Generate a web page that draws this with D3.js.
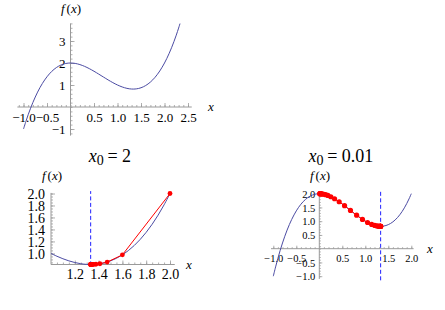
<!DOCTYPE html>
<html><head><meta charset="utf-8">
<script src="https://cdn.jsdelivr.net/npm/d3@7"></script>
<style>
html,body{margin:0;padding:0;background:#fff;}
svg, svg text{font-family:"Liberation Serif","Tinos","Times New Roman","Nimbus Roman","DejaVu Serif",serif !important;}
</style></head>
<body><svg id="c" width="445" height="310"></svg>
<script>
// f(x) sampled values
const curveX = [-1.00,-0.95,-0.90,-0.85,-0.80,-0.75,-0.70,-0.65,-0.60,-0.55,-0.50,-0.45,-0.40,-0.35,-0.30,-0.25,-0.20,-0.15,-0.10,-0.05,
  0.00,0.05,0.10,0.15,0.20,0.25,0.30,0.35,0.40,0.45,0.50,0.55,0.60,0.65,0.70,0.75,0.80,0.85,0.90,0.95,
  1.00,1.05,1.10,1.15,1.20,1.25,1.30,1.3333,1.35,1.40,1.45,1.50,1.55,1.60,1.65,1.70,1.75,1.80,1.85,1.90,1.95,
  2.00,2.05,2.10,2.15,2.20,2.25,2.30,2.33];
const curveY = [-1.0000,-0.6624,-0.3490,-0.0591,0.2080,0.4531,0.6770,0.8804,1.0640,1.2286,1.3750,1.5039,1.6160,1.7121,1.7930,1.8594,1.9120,1.9516,1.9790,1.9949,
  2.0000,1.9951,1.9810,1.9584,1.9280,1.8906,1.8470,1.7979,1.7440,1.6861,1.6250,1.5614,1.4960,1.4296,1.3630,1.2969,1.2320,1.1691,1.1090,1.0524,
  1.0000,0.9526,0.9110,0.8759,0.8480,0.8281,0.8170,0.8148,0.8154,0.8240,0.8436,0.8750,0.9189,0.9760,1.0471,1.1330,1.2344,1.3520,1.4866,1.6390,1.8099,
  2.0000,2.2101,2.4410,2.6934,2.9680,3.2656,3.5870,3.7915];

// iterates starting at x0 = 2
const iterX_a = [2.0000,1.6000,1.4720,1.4108,1.3780,1.3595,1.3488,1.3426,1.3388,1.3366,1.3353,1.3345,1.3340,1.3338,1.3336,1.3335];
const iterY_a = [2.0000,0.9760,0.8559,0.8273,0.8189,0.8162,0.8153,0.8150,0.8149,0.8148,0.8148,0.8148,0.8148,0.8148,0.8148,0.8148];
// iterates starting at x0 = 0.01
const iterX_b = [0.0100,0.0140,0.0195,0.0272,0.0378,0.0525,0.0727,0.1002,0.1373,0.1866,0.2508,0.3322,0.4320,0.5488,0.6780,0.8113,0.9384,1.0495,1.1389,1.2053,1.2516,1.2823,1.3019,1.3142,1.3217,1.3263,1.3291,1.3308,1.3318,1.3324,1.3328,1.3330];
const iterY_b = [1.9998,1.9996,1.9993,1.9985,1.9972,1.9946,1.9898,1.9809,1.9649,1.9369,1.8900,1.8159,1.7074,1.5629,1.3923,1.2176,1.0652,0.9530,0.8831,0.8455,0.8276,0.8199,0.8168,0.8155,0.8151,0.8149,0.8149,0.8148,0.8148,0.8148,0.8148,0.8148];
const xMin = 1.3333;

// ticks
const topXMajor = [-1,-0.5,0.5,1,1.5,2,2.5];
const topYMajor = [-1,1,2,3];
const blXMajor = [1.2,1.4,1.6,1.8,2.0];
const blYMajor = [1.0,1.2,1.4,1.6,1.8,2.0];
const brXMajor = [-1,-0.5,0.5,1,1.5,2];
const brYMajor = [-1,-0.5,0.5,1,1.5,2];

const FONT = '"Liberation Serif","Tinos","Times New Roman","Nimbus Roman","DejaVu Serif",serif';
const svg = d3.select("#c").attr("font-family", FONT);
const AX = "#9a9a9a", CURVE = "#4b4ba3";
const fmtMinus = s => s.replace("-", "\u2212");

function steps(a, b, s){ const out=[]; for(let v=a; v<=b+1e-9; v+=s) out.push(+v.toFixed(4)); return out; }

function panel(o){
  const g = svg.append("g").attr("font-family", FONT);
  const x = d3.scaleLinear().domain(o.xd).range(o.xr);
  const y = d3.scaleLinear().domain(o.yd).range(o.yr);
  const x0 = x(o.ox), y0 = y(o.oy);
  g.append("line").attr("x1", x(o.xe[0])).attr("x2", x(o.xe[1])).attr("y1", y0).attr("y2", y0).attr("stroke", AX).attr("stroke-width", 1);
  g.append("line").attr("y1", y(o.ye[0])).attr("y2", y(o.ye[1])).attr("x1", x0).attr("x2", x0).attr("stroke", AX).attr("stroke-width", 1);
  const gxm = g.append("g").attr("transform", `translate(0,${y0})`)
    .call(d3.axisBottom(x).tickValues(o.xMinor).tickSize(-o.tmin).tickFormat(""));
  const gym = g.append("g").attr("transform", `translate(${x0},0)`)
    .call(d3.axisLeft(y).tickValues(o.yMinor).tickSize(-o.tmin).tickFormat(""));
  const gx = g.append("g").attr("transform", `translate(0,${y0})`)
    .call(d3.axisBottom(x).tickValues(o.xMajor).tickSize(-o.tmaj).tickPadding(o.xpad).tickFormat(d => fmtMinus(d3.format(o.xf)(d))));
  const gy = g.append("g").attr("transform", `translate(${x0},0)`)
    .call(d3.axisLeft(y).tickValues(o.yMajor).tickSize(-o.tmaj).tickPadding(o.ypad).tickFormat(d => fmtMinus(d3.format(o.yf)(d))));
  [gxm, gym, gx, gy].forEach(a => {
    a.attr("font-family", FONT).attr("font-size", o.fs);
    a.select(".domain").remove();
    a.selectAll(".tick line").attr("stroke", AX).attr("stroke-width", 0.8);
    a.selectAll("text").attr("fill", "#000");
  });
  gx.selectAll(".tick text").attr("y", o.xlabY).attr("dy", null);
  gy.selectAll(".tick text").attr("dy", o.ylabDy);

  const cid = "clip" + o.id;
  g.append("clipPath").attr("id", cid).append("rect")
    .attr("x", x(o.cx[0])).attr("y", y(o.cy[1])).attr("width", x(o.cx[1]) - x(o.cx[0])).attr("height", y(o.cy[0]) - y(o.cy[1]));
  const pts = curveX.map((v, i) => [v, curveY[i]]).filter(p => p[0] >= o.cr[0] - 1e-9 && p[0] <= o.cr[1] + 1e-9);
  g.append("path").attr("clip-path", `url(#${cid})`)
    .attr("d", d3.line().x(d => x(d[0])).y(d => y(d[1])).curve(d3.curveCatmullRom)(pts))
    .attr("fill", "none").attr("stroke", CURVE).attr("stroke-width", 1);

  if (o.ix){
    const ip = o.ix.map((v, i) => [v, o.iy[i]]);
    g.append("line").attr("x1", x(xMin)).attr("x2", x(xMin)).attr("y1", y(o.dash[0])).attr("y2", y(o.dash[1]))
      .attr("stroke", "#2020ff").attr("stroke-width", 1).attr("stroke-dasharray", "4,2.5");
    g.append("path").attr("d", d3.line().x(d => x(d[0])).y(d => y(d[1]))(ip))
      .attr("fill", "none").attr("stroke", "#ff0000").attr("stroke-width", 1);
    g.selectAll("circle.p").data(ip).join("circle").attr("class", "p")
      .attr("cx", d => x(d[0])).attr("cy", d => y(d[1])).attr("r", o.pr).attr("fill", "#ff0000");
  }
  const ft = g.append("text").attr("x", o.fx).attr("y", o.fy).attr("text-anchor", "middle").attr("font-size", 13);
  ft.append("tspan").attr("font-style", "italic").text("f");
  ft.append("tspan").attr("dx", 2).text("(");
  ft.append("tspan").attr("font-style", "italic").text("x");
  ft.append("tspan").text(")");
  g.append("text").attr("x", o.xtx).attr("y", o.xty).attr("text-anchor", "middle").attr("font-size", 13).attr("font-style", "italic").text("x");
  if (o.title){
    const t = g.append("text").attr("x", o.title.x).attr("y", o.title.y).attr("text-anchor", "middle").attr("font-size", 18);
    t.append("tspan").attr("font-style", "italic").text("x");
    t.append("tspan").attr("dy", 3).attr("font-size", 14).text("0");
    t.append("tspan").attr("dy", -3).text("\u2009= " + o.title.v);
  }
}

panel({id:"t", xd:[-1,2.5], xr:[23.5,188], yd:[-1,3], yr:[129,41], ox:0, oy:0,
  xe:[-1.13,2.58], ye:[-1.3,3.8], xMajor:topXMajor, yMajor:topYMajor,
  xMinor:steps(-1.1,2.5,0.1), yMinor:steps(-1.2,3.8,0.2), tmaj:4, tmin:2,
  xf:".1f", yf:"d", fs:13, xpad:3, ypad:5, xlabY:15, ylabDy:"0.35em",
  cx:[-1.2,2.7], cy:[-1.3,3.9], cr:[-1,2.33],
  fx:71, fy:13, xtx:211, xty:111});

panel({id:"a", xd:[1,2], xr:[51,170], yd:[0.815,2], yr:[264.5,193.5], ox:1, oy:0.815,
  xe:[1,2.04], ye:[0.815,2.01], xMajor:blXMajor, yMajor:blYMajor,
  xMinor:steps(1.05,2.0,0.05), yMinor:steps(0.85,2.0,0.05), tmaj:4, tmin:2,
  xf:".1f", yf:".1f", fs:14, xpad:3, ypad:6, xlabY:14, ylabDy:"0.35em",
  cx:[1,2.05], cy:[0.8,2.05], cr:[1,2],
  ix:iterX_a, iy:iterY_a, dash:[0.80,2.04], pr:2.4,
  fx:52, fy:180, xtx:189, xty:269, title:{x:110, y:162, v:"2"}});

panel({id:"b", xd:[-1,2], xr:[273.3,411.3], yd:[-1,2], yr:[276.2,193.7], ox:0, oy:0,
  xe:[-1.05,2.05], ye:[-1.1,2.05], xMajor:brXMajor, yMajor:brYMajor,
  xMinor:steps(-1.0,2.0,0.1), yMinor:steps(-1.0,2.0,0.1), tmaj:3, tmin:1.5,
  xf:".1f", yf:".1f", fs:10.5, xpad:3, ypad:4, xlabY:13, ylabDy:"0.35em",
  cx:[-1.1,2.1], cy:[-1.2,2.1], cr:[-1,2],
  ix:iterX_b, iy:iterY_b, dash:[-1.15,2.1], pr:2.6,
  fx:320, fy:180, xtx:430, xty:253, title:{x:341, y:162, v:"0.01"}});
</script></body></html>
